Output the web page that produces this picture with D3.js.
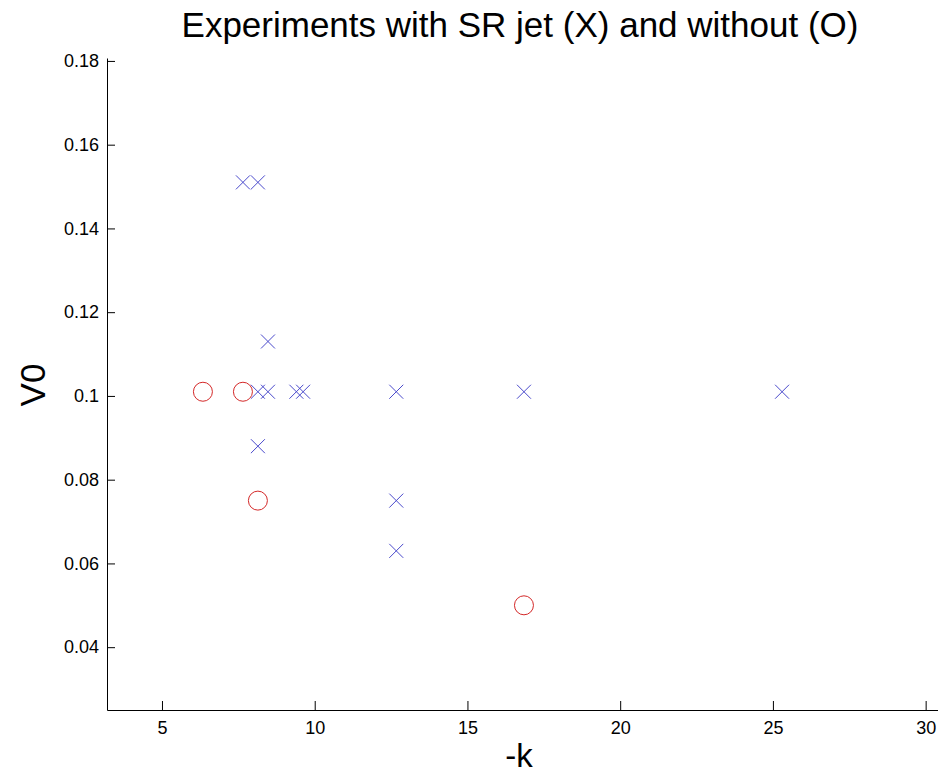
<!DOCTYPE html>
<html>
<head>
<meta charset="utf-8">
<script src="https://cdn.jsdelivr.net/npm/d3@7"></script>
<style>
  body { margin: 0; background: #fff; }
  text { font-family: "Liberation Sans", Helvetica, Arial, sans-serif; }
</style>
</head>
<body>
<div id="container"></div>
<script>
/* DATA */
// experiments with SR jet (X)
const jetK = [7.65, 8.14, 8.47, 8.14, 8.47, 9.4, 9.62, 12.67, 16.85, 25.3, 8.14, 12.67, 12.67]
const jetV0 = [0.151, 0.151, 0.113, 0.101, 0.101, 0.101, 0.101, 0.101, 0.101, 0.101, 0.088, 0.075, 0.063]
// experiments without (O)
const noJetK = [6.34, 7.65, 8.14, 16.85]
const noJetV0 = [0.101, 0.101, 0.075, 0.05]

const xTicks = [5, 10, 15, 20, 25, 30]
const yTicks = [0.04, 0.06, 0.08, 0.1, 0.12, 0.14, 0.16, 0.18]
const yTickLabels = ["0.04", "0.06", "0.08", "0.1", "0.12", "0.14", "0.16", "0.18"]

/* CONSTANTS */
const width = 938,
  height = 774,
  plot = { left: 107, right: 940, top: 58, bottom: 710 }

const withJet = jetK.map((k, i) => ({ k: k, v: jetV0[i] }))
const withoutJet = noJetK.map((k, i) => ({ k: k, v: noJetV0[i] }))

/* SCALES */
const xScale = d3.scaleLinear()
  .domain([3.2, 30.47])
  .range([plot.left, plot.right])

const yScale = d3.scaleLinear()
  .domain([0.025, 0.1807])
  .range([plot.bottom, plot.top])

const svg = d3.select("#container")
  .append("svg")
  .attr("width", width)
  .attr("height", height)

/* AXES */
const xAxis = d3.axisBottom(xScale)
  .tickValues(xTicks)
  .tickFormat(d3.format("d"))
  .tickSizeInner(-9)
  .tickSizeOuter(0)
  .tickPadding(11)

svg.append("g")
  .attr("transform", `translate(0,${plot.bottom})`)
  .call(xAxis)
  .call(g => g.selectAll("text").attr("font-size", "18px").attr("fill", "#000"))
  .call(g => g.attr("font-family", null))

const yAxis = d3.axisLeft(yScale)
  .tickValues(yTicks)
  .tickFormat((d, i) => yTickLabels[i])
  .tickSizeInner(-8)
  .tickSizeOuter(0)
  .tickPadding(8)

svg.append("g")
  .attr("transform", `translate(${plot.left},0)`)
  .call(yAxis)
  .call(g => g.selectAll("text").attr("font-size", "18px").attr("fill", "#000"))
  .call(g => g.attr("font-family", null))

/* MARKS */
const s = 7
svg.selectAll(".jet")
  .data(withJet)
  .join("path")
  .attr("class", "jet")
  .attr("d", d => {
    const x = xScale(d.k), y = yScale(d.v)
    return `M${x - s},${y - s}L${x + s},${y + s}M${x - s},${y + s}L${x + s},${y - s}`
  })
  .attr("fill", "none")
  .attr("stroke", "#4a4acc")
  .attr("stroke-width", 1)

svg.selectAll(".nojet")
  .data(withoutJet)
  .join("circle")
  .attr("class", "nojet")
  .attr("cx", d => xScale(d.k))
  .attr("cy", d => yScale(d.v))
  .attr("r", 9.5)
  .attr("fill", "none")
  .attr("stroke", "#d42828")
  .attr("stroke-width", 1)

/* LABELS */
svg.append("text")
  .attr("x", 520)
  .attr("y", 37)
  .attr("text-anchor", "middle")
  .attr("font-size", "35px")
  .text("Experiments with SR jet (X) and without (O)")

svg.append("text")
  .attr("x", 519)
  .attr("y", 767)
  .attr("text-anchor", "middle")
  .attr("font-size", "33px")
  .text("-k")

svg.append("text")
  .attr("transform", "translate(45,385) rotate(-90)")
  .attr("text-anchor", "middle")
  .attr("font-size", "35px")
  .text("V0")
</script>
</body>
</html>
